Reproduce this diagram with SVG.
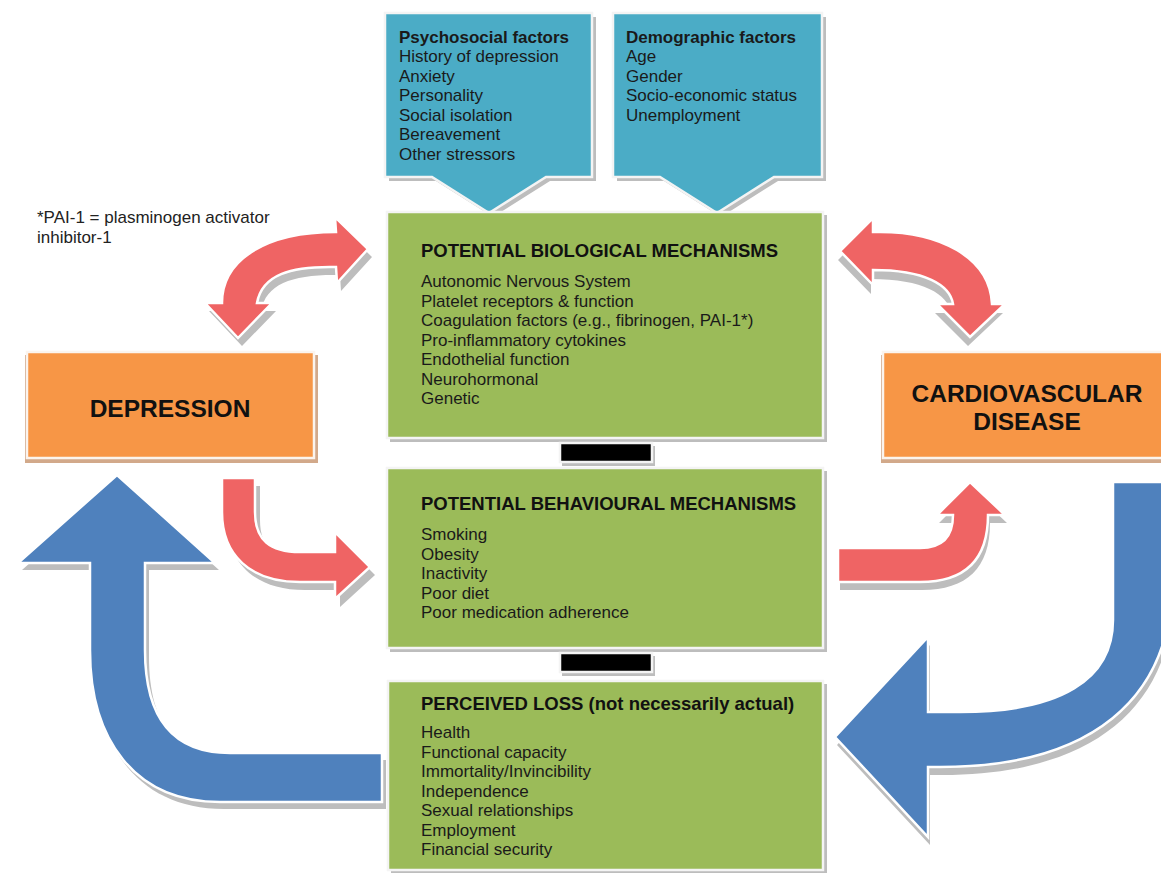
<svg xmlns="http://www.w3.org/2000/svg" xmlns:xlink="http://www.w3.org/1999/xlink" width="1161" height="873" viewBox="0 0 1161 873">
<style>
.t{font-family:"Liberation Sans",Arial,sans-serif;font-size:17px;fill:#1a1a1a}
.b{font-weight:bold}
.h{font-family:"Liberation Sans",Arial,sans-serif;font-weight:bold;font-size:18.5px;fill:#111}
.big{font-family:"Liberation Sans",Arial,sans-serif;font-weight:bold;font-size:24.5px;fill:#111}
.green{fill:#9BBB59;stroke:#f4f4f4;stroke-width:2.5}
.cyan{fill:#4BACC6;stroke:#f4f4f4;stroke-width:2.5}
.orange{fill:#F79646;stroke:#fbf4ee;stroke-width:2.5}
.bar{fill:#000;stroke:#f4f4f4;stroke-width:2.5}
.sh{fill:#BDBDBD}
.tan{fill:#D2A98A}
.red{fill:#EF6464;stroke:#fff;stroke-width:2.5}
.blue{fill:#4F81BD;stroke:#fff;stroke-width:2.5}
</style>
<defs>
<path id="rTL" d="M222,303 C222,262 262,232 336,232 L335,217 L368,249 L337,283 L336,267 C290,266 262,275 257,303 L272,303 L238,338 L205,303 Z"/>
<path id="rTR" d="M873,232 C940,230 990,258 992,304 L1005,304 L970,337 L937,304 L953,304 C950,285 925,270 873,270 L873,285 L840,251 L873,218 Z"/>
<path id="rBL" d="M222,478 L255,478 L255,512 C255,540 270,552 300,552 L335,552 L335,532 L370,567 L335,599 L335,582 L300,582 C250,582 222,555 222,512 Z"/>
<path id="rBR" d="M838,548 L920,548 C945,548 953,535 953,515 L937,515 L970,482 L1005,515 L988,515 C988,560 965,582 920,582 L838,582 Z"/>
<path id="bL" d="M117,475 L215,563 L145,563 L145,650 C145,720 175,753 230,753 L382,753 L382,802 L220,802 C135,802 90,740 90,650 L90,563 L18,563 Z"/>
<path id="bR" d="M1113,482 L1172,482 L1172,580 C1172,700 1090,767 940,767 L928,767 L928,837 L835,737 L928,637 L928,712 L960,712 C1060,712 1113,680 1113,620 Z"/>
<path id="pL" d="M385,13 L592,13 L592,177 L546,177 L489,213 L432,177 L385,177 Z"/>
<path id="pR" d="M613,13 L822,13 L822,177 L774,177 L717,213 L660,177 L613,177 Z"/>
</defs>
<rect width="1161" height="873" fill="#fff"/>

<g id="connectors">
<use xlink:href="#rTL" class="sh" transform="translate(4,8)"/>
<use xlink:href="#rTL" class="red"/>
<use xlink:href="#rTR" class="sh" transform="translate(-2,9)"/>
<use xlink:href="#rTR" class="red"/>
<use xlink:href="#rBL" class="sh" transform="translate(5,8)"/>
<use xlink:href="#rBL" class="red"/>
<use xlink:href="#rBR" class="sh" transform="translate(2,8)"/>
<use xlink:href="#rBR" class="red"/>
<use xlink:href="#bL" class="sh" transform="translate(4,7)"/>
<use xlink:href="#bL" class="blue"/>
<use xlink:href="#bR" class="sh" transform="translate(2,8)"/>
<use xlink:href="#bR" class="blue"/>
</g>

<g id="psychosocial">
<use xlink:href="#pL" class="sh" transform="translate(4,4)"/>
<use xlink:href="#pL" class="cyan"/>
<text class="t b" x="399" y="43">Psychosocial factors</text>
<text class="t" x="399" y="62">History of depression</text>
<text class="t" x="399" y="82">Anxiety</text>
<text class="t" x="399" y="101">Personality</text>
<text class="t" x="399" y="121">Social isolation</text>
<text class="t" x="399" y="140">Bereavement</text>
<text class="t" x="399" y="160">Other stressors</text>
</g>

<g id="demographic">
<use xlink:href="#pR" class="sh" transform="translate(4,4)"/>
<use xlink:href="#pR" class="cyan"/>
<text class="t b" x="626" y="43">Demographic factors</text>
<text class="t" x="626" y="62">Age</text>
<text class="t" x="626" y="82">Gender</text>
<text class="t" x="626" y="101">Socio-economic status</text>
<text class="t" x="626" y="121">Unemployment</text>
</g>

<g id="note">
<text class="t" x="37" y="223" style="fill:#222">*PAI-1 = plasminogen activator</text>
<text class="t" x="37" y="243" style="fill:#222">inhibitor-1</text>
</g>

<g id="biological">
<rect class="sh" x="390" y="215" width="437" height="227"/>
<rect class="green" x="387" y="212" width="436" height="226"/>
<text class="h" x="421" y="257">POTENTIAL BIOLOGICAL MECHANISMS</text>
<text class="t" x="421" y="287">Autonomic Nervous System</text>
<text class="t" x="421" y="306.5">Platelet receptors &amp; function</text>
<text class="t" x="421" y="326">Coagulation factors (e.g., fibrinogen, PAI-1*)</text>
<text class="t" x="421" y="345.5">Pro-inflammatory cytokines</text>
<text class="t" x="421" y="365">Endothelial function</text>
<text class="t" x="421" y="384.5">Neurohormonal</text>
<text class="t" x="421" y="404">Genetic</text>
</g>

<g id="bar1">
<rect class="sh" x="562" y="446" width="93" height="20"/>
<rect class="bar" x="560" y="443" width="92" height="19"/>
</g>

<g id="behavioural">
<rect class="sh" x="390" y="471" width="437" height="181"/>
<rect class="green" x="387" y="468" width="436" height="180"/>
<text class="h" x="421" y="510">POTENTIAL BEHAVIOURAL MECHANISMS</text>
<text class="t" x="421" y="540">Smoking</text>
<text class="t" x="421" y="559.5">Obesity</text>
<text class="t" x="421" y="579">Inactivity</text>
<text class="t" x="421" y="598.5">Poor diet</text>
<text class="t" x="421" y="618">Poor medication adherence</text>
</g>

<g id="bar2">
<rect class="sh" x="562" y="656" width="93" height="20"/>
<rect class="bar" x="560" y="653" width="92" height="19"/>
</g>

<g id="loss">
<rect class="sh" x="391" y="684" width="436" height="190"/>
<rect class="green" x="388" y="681" width="435" height="189"/>
<text class="h" x="421" y="710">PERCEIVED LOSS (not necessarily actual)</text>
<text class="t" x="421" y="738">Health</text>
<text class="t" x="421" y="757.5">Functional capacity</text>
<text class="t" x="421" y="777">Immortality/Invincibility</text>
<text class="t" x="421" y="796.5">Independence</text>
<text class="t" x="421" y="816">Sexual relationships</text>
<text class="t" x="421" y="835.5">Employment</text>
<text class="t" x="421" y="855">Financial security</text>
</g>

<g id="depression">
<rect class="tan" x="25" y="355" width="293" height="108"/>
<rect class="orange" x="27" y="352" width="287" height="106"/>
<text class="big" x="170" y="417" text-anchor="middle">DEPRESSION</text>
</g>

<g id="cvd">
<rect class="tan" x="881" y="355" width="295" height="108"/>
<rect class="orange" x="883" y="352" width="290" height="106"/>
<text class="big" x="1027" y="402" text-anchor="middle">CARDIOVASCULAR</text>
<text class="big" x="1027" y="430" text-anchor="middle">DISEASE</text>
</g>
</svg>
